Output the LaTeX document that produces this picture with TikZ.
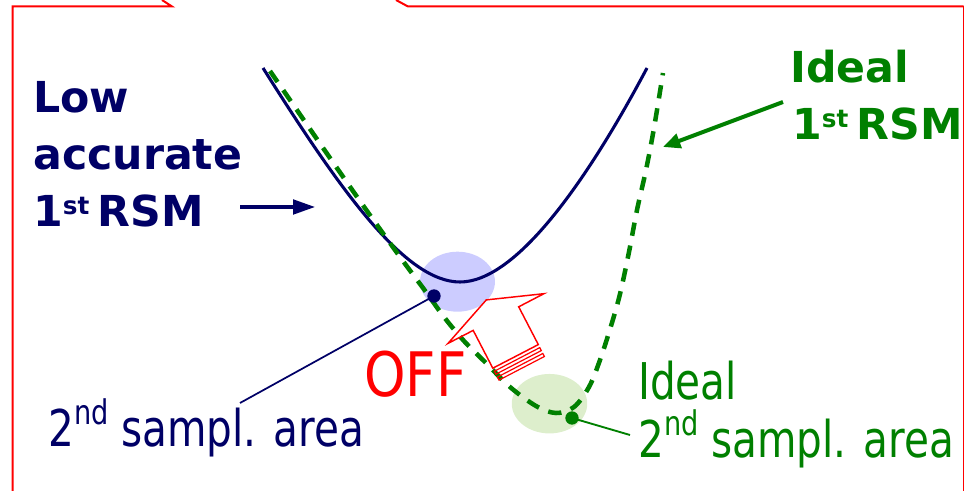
\documentclass[tikz,border=0pt]{standalone}
\usepackage{fontspec}
\setmainfont{DejaVu Sans}
\newfontfamily\bfont{DejaVu Sans}
\newfontfamily\rfont[FakeStretch=0.8]{DejaVu Sans}
\newfontfamily\ofont[FakeStretch=0.86]{DejaVu Sans}
\usetikzlibrary{arrows.meta}
\definecolor{navyc}{RGB}{0,0,102}
\definecolor{greenc}{RGB}{0,128,0}
\definecolor{redc}{RGB}{255,0,0}
\definecolor{lav}{RGB}{204,204,255}
\definecolor{lgreen}{RGB}{221,238,204}
\newcommand{\bsup}[1]{\raisebox{9pt}{\fontsize{18.5}{20}\selectfont #1}}
\newcommand{\rsup}[1]{\raisebox{16.5pt}{\fontsize{25.5}{26}\selectfont #1}}
\begin{document}
\begin{tikzpicture}[x=0.75pt,y=-0.75pt,
  boldtxt/.style={inner sep=0pt, anchor=base west, font=\bfont\bfseries\fontsize{32}{40}\selectfont},
  regtxt/.style={inner sep=0pt, anchor=base west, font=\rfont\fontsize{38}{46}\selectfont},
  frameline/.style={draw=redc, line width=1.5pt},
  navycurve/.style={draw=navyc, line width=2.3pt},
  gdash/.style={draw=greenc, line width=3.4pt, dash pattern=on 10pt off 7.5pt},
  dotn/.style={circle, fill=#1, inner sep=0pt, minimum size=10pt},
  redarrow/.style={draw=redc, line width=1.1pt, line join=miter}
]
\useasboundingbox (0,0) rectangle (965,491);
% frame
\draw[frameline] (162,0) -- (172,6.5) -- (12.5,6.5) -- (12.5,495);
\draw[frameline] (396,0) -- (408,6.5) -- (963.5,6.5);
\draw[draw=redc, line width=0.8pt] (963.5,6.5) -- (963.5,495);
% ellipses
\fill[lav] (457.5,281.7) ellipse [x radius=28.1pt, y radius=22.5pt];
\fill[lgreen] (549.5,403.7) ellipse [x radius=28.3pt, y radius=22.3pt];
% curves
\draw[navycurve] (263,68) .. controls (340,190) and (405,282) .. (460,282)
  .. controls (515,282) and (585,185) .. (647,68);
\draw[gdash] plot[smooth, tension=0.55] coordinates {(270,71) (290,100) (330,158) (367,211) (403,261) (426,292) (444,317) (464,341) (487,364) (510,387) (536,406) (556,413) (574,407) (589,387) (600,360) (611,326) (620,294) (629,252) (637,210) (646,170) (654,128) (663,73)};
% red striped arrow
\draw[redarrow] (538.3,344.6) -- (518.7,306.8) -- (543.9,293.7) -- (486.3,299.9) -- (448.0,343.4) -- (473.2,330.4) -- (492.8,368.2) -- cycle;
\draw[redarrow, line width=0.9pt] (544.4,356.5) -- (542.8,353.5) -- (497.4,377.1) -- (499.0,380.1) -- cycle;
\draw[redarrow, line width=0.9pt] (541.3,350.6) -- (539.8,347.6) -- (494.4,371.2) -- (495.9,374.2) -- cycle;
% dots and label lines
\node[dotn=navyc] (nd) at (434,296) {};
\node[dotn=greenc] (gd) at (572,418) {};
\coordinate (nl) at (240,403);
\coordinate (gl) at (630,435);
\draw[navyc, line width=1.3pt] (nd.center) -- (nl);
\draw[greenc, line width=1.4pt] (gd.center) -- (gl);
% texts
\node[boldtxt, text=navyc] (t1) at (33,113) {Low};
\node[boldtxt, text=navyc] (t2) at (33,170) {accurate};
\node[boldtxt, text=navyc] (t3) at (33,227) {1\bsup{st}\hspace{6pt}RSM};
\node[boldtxt, text=greenc] (t4) at (790,83) {Ideal};
\node[boldtxt, text=greenc] (t5) at (792,140) {1\bsup{st}\hspace{6pt}RSM};
\node[inner sep=0pt, anchor=base west, text=redc, font=\ofont\fontsize{46}{50}\selectfont] (off) at (364,397) {OFF};
\node[regtxt, text=navyc] (t6) at (48,447) {2\rsup{nd} sampl. area};
\node[regtxt, text=greenc] (t7) at (638,400) {Ideal};
\node[regtxt, text=greenc] (t8) at (638,458) {2\rsup{nd} sampl. area};
% arrows
\coordinate (na1) at (240,207);
\coordinate (na2) at (315,207);
\draw[navyc, line width=2.3pt, -{Triangle[length=16.5pt,width=11pt]}] (na1) -- (na2);
\coordinate (ga1) at (783,102);
\coordinate (ga2) at (663,147);
\draw[greenc, line width=3pt, -{Triangle[length=13pt,width=11pt]}] (ga1) -- (ga2);
\end{tikzpicture}
\end{document}
